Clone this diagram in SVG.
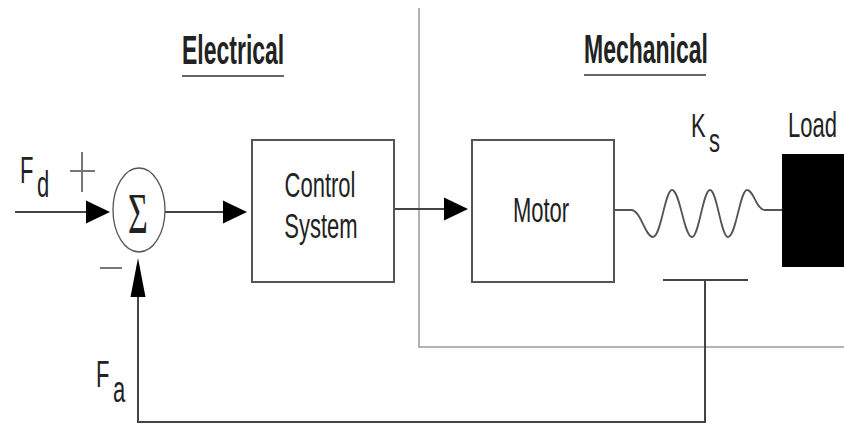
<svg xmlns="http://www.w3.org/2000/svg" width="844" height="426" viewBox="0 0 844 426">
<style>
  .bg{fill:#ffffff}
  .box{fill:#ffffff;stroke:#555555;stroke-width:2}
  .wire{fill:none;stroke:#444444;stroke-width:2}
  .divider{fill:none;stroke:#9a9a9a;stroke-width:1.5}
  .head{fill:#000000}
  .t{font-family:"Liberation Sans",Arial,sans-serif;font-size:22px;fill:#222222}
  .h{font-family:"Liberation Sans",Arial,sans-serif;font-size:23px;font-weight:bold;fill:#222222}
  .sig{font-family:"Liberation Serif","Times New Roman",serif;font-size:34px;fill:#222222}
  .sign{stroke:#777777;stroke-width:2}
  .ul{stroke:#666666;stroke-width:2}
</style>
<defs>
  <polygon id="arrowR" points="0,0 -24,-11.5 -24,11.5"/>
  <polygon id="arrowU" points="0,0 -7.5,39 7.5,39"/>
</defs>
<rect class="bg" x="0" y="0" width="844" height="426"/>

<g id="regions">
  <path class="divider" d="M419,8 L419,347 L844,347"/>
  <text class="h" transform="translate(182,64) scale(1,1.75)">Electrical</text>
  <line class="ul" x1="182" y1="76" x2="284" y2="76"/>
  <text class="h" transform="translate(584,63) scale(1,1.75)">Mechanical</text>
  <line class="ul" x1="584" y1="75" x2="706" y2="75"/>
</g>

<g id="connectors">
  <line class="wire" x1="15" y1="212" x2="90" y2="212"/>
  <use href="#arrowR" class="head" x="110" y="212"/>
  <line class="wire" x1="165" y1="212" x2="228" y2="212"/>
  <use href="#arrowR" class="head" x="247" y="212"/>
  <line class="wire" x1="394" y1="209" x2="450" y2="209"/>
  <use href="#arrowR" class="head" x="468" y="209"/>
  <line class="wire" x1="663" y1="280" x2="748" y2="280"/>
  <path class="wire" d="M705,280 L705,422 L138,422 L138,290"/>
  <use href="#arrowU" class="head" x="138" y="258"/>
</g>

<g id="fd-label">
  <text class="t" transform="translate(20,183) scale(1,1.7)">F</text>
  <text class="t" transform="translate(37,197) scale(1,1.7)">d</text>
  <line class="sign" x1="70" y1="171" x2="95" y2="171"/>
  <line class="sign" x1="82" y1="152" x2="82" y2="192"/>
  <line class="sign" x1="100" y1="268" x2="122" y2="268"/>
</g>

<g id="sum">
  <ellipse cx="139" cy="210" rx="26" ry="42" fill="#ffffff" stroke="#555555" stroke-width="1.3"/>
  <text class="sig" text-anchor="middle" transform="translate(138,233) scale(1,1.65)">Σ</text>
</g>

<g id="control">
  <rect class="box" x="252" y="140" width="142" height="142"/>
  <text class="t" text-anchor="middle" transform="translate(320,197) scale(1,1.6)">Control</text>
  <text class="t" text-anchor="middle" transform="translate(321,238) scale(1,1.6)">System</text>
</g>

<g id="motor">
  <rect class="box" x="472" y="140" width="142" height="142"/>
  <text class="t" text-anchor="middle" transform="translate(541,222) scale(1,1.6)">Motor</text>
</g>

<g id="spring">
  <path fill="none" stroke="#555555" stroke-width="1.8" d="M614,210 L631,210 C641,210 645,237 653,237 C661,237 665,190 672,190 C680,190 684,237 692,237 C699,237 703,190 710,190 C717,190 721,237 728,237 C736,237 740,190 747,190 C754,190 756,210 765,210 L782,210"/>
  <text class="t" transform="translate(691,137) scale(1,1.5)">K</text>
  <text class="t" transform="translate(709,152) scale(1,1.5)">s</text>
</g>

<g id="load">
  <rect x="782" y="154" width="62" height="113" fill="#000000"/>
  <text class="t" transform="translate(788,137) scale(1,1.6)">Load</text>
</g>

<g id="fa-label">
  <text class="t" transform="translate(96,387) scale(1,1.7)">F</text>
  <text class="t" transform="translate(113,402) scale(1,1.7)">a</text>
</g>
</svg>
